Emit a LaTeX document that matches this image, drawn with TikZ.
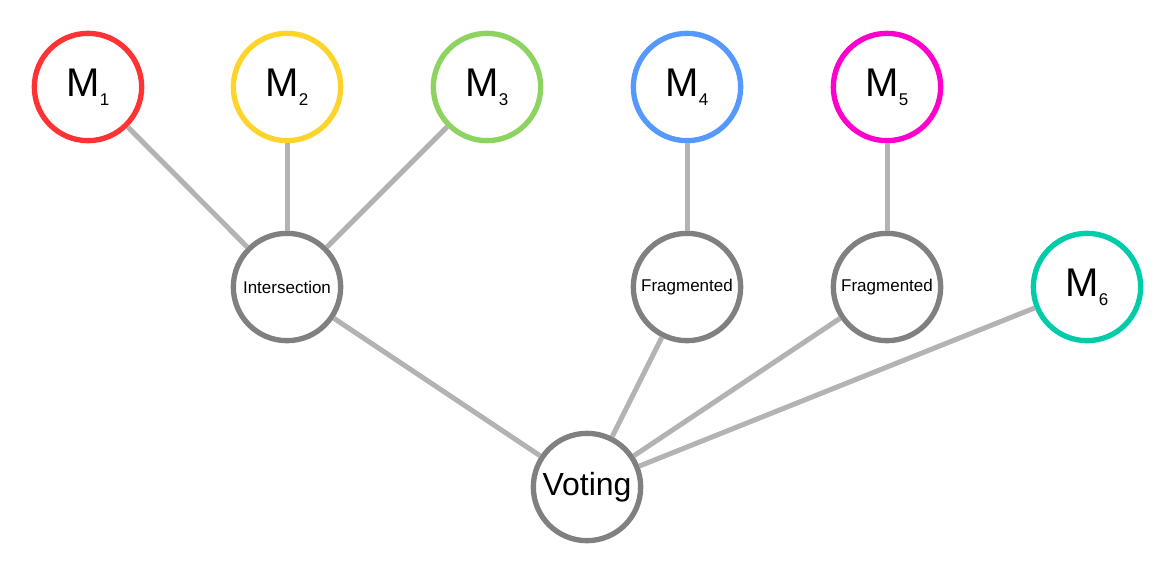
\documentclass[tikz,border=0pt]{standalone}
\usepackage{fontspec}
\setmainfont{Liberation Sans}
\definecolor{cred}{HTML}{FF3333}
\definecolor{cyellow}{HTML}{FFD42A}
\definecolor{cgreen}{HTML}{8DD35F}
\definecolor{cblue}{HTML}{5599FF}
\definecolor{cmag}{HTML}{FF00CC}
\definecolor{cteal}{HTML}{00CCAA}
\definecolor{cgray}{HTML}{808080}
\definecolor{cedge}{HTML}{B3B3B3}
\newcommand{\modl}[1]{\fontsize{30pt}{32pt}\selectfont M\raisebox{-7pt}{\fontsize{12.75pt}{14pt}\selectfont #1}}
\tikzset{
  mnode/.style={circle, draw=#1, line width=4pt, minimum size=80.5pt, inner sep=0pt, fill=white},
  opnode/.style={circle, draw=cgray, line width=4pt, minimum size=80.5pt, inner sep=0pt, fill=white, font=\fontsize{12.75pt}{14pt}\selectfont},
  vnode/.style={circle, draw=cgray, line width=4pt, minimum size=80.5pt, inner sep=0pt, fill=white, font=\fontsize{24pt}{26pt}\selectfont},
  edge/.style={draw=cedge, line width=3.75pt}
}
\begin{document}
\begin{tikzpicture}[x=0.75pt,y=-0.75pt]
\useasboundingbox (0,0) rectangle (1176,576);
\node[mnode=cred] (m1) at (88,87) {\modl{1}};
\node[mnode=cyellow] (m2) at (287,87) {\modl{2}};
\node[mnode=cgreen] (m3) at (487,87) {\modl{3}};
\node[mnode=cblue] (m4) at (687,87) {\modl{4}};
\node[mnode=cmag] (m5) at (887,87) {\modl{5}};
\node[mnode=cteal] (m6) at (1087,287) {\modl{6}};
\node[opnode] (inter) at (287,287) {Intersection};
\node[opnode] (frag1) at (687,287) {Fragmented};
\node[opnode] (frag2) at (887,287) {Fragmented};
\node[vnode] (vote) at (587,487) {Voting};
\draw[edge] (m1) -- (inter);
\draw[edge] (m2) -- (inter);
\draw[edge] (m3) -- (inter);
\draw[edge] (m4) -- (frag1);
\draw[edge] (m5) -- (frag2);
\draw[edge] (inter) -- (vote);
\draw[edge] (frag1) -- (vote);
\draw[edge] (frag2) -- (vote);
\draw[edge] (m6) -- (vote);
\end{tikzpicture}
\end{document}
